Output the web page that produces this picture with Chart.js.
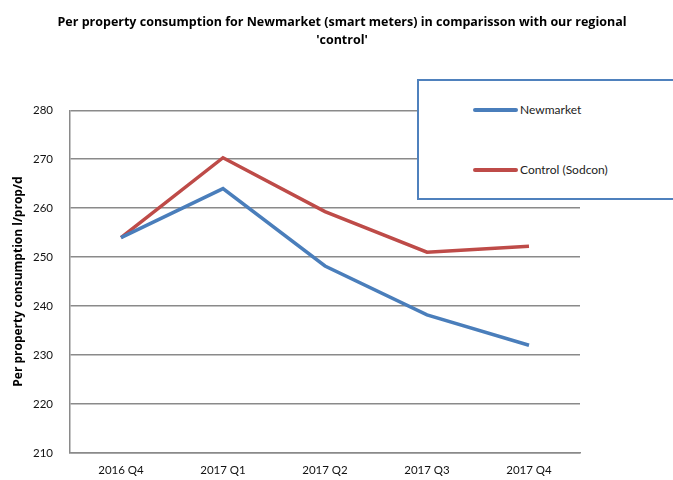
<!DOCTYPE html>
<html>
<head>
<meta charset="utf-8">
<script src="https://cdn.jsdelivr.net/npm/chart.js@4/dist/chart.umd.min.js"></script>
<style>
    html, body { margin: 0; padding: 0; background: #fff; }
    #wrap { position: relative; width: 673px; height: 480px; }
    #legendBox {
        position: absolute; left: 417px; top: 79px; width: 262px; height: 121px;
        border: 2px solid #4f81bd; background: #fff; box-sizing: border-box;
        font-family: Lato, sans-serif; font-size: 12px; color: #222;
    }
    .leg-item { position: absolute; left: 54px; display: flex; align-items: center; }
    .leg-line { width: 45px; height: 4px; border-radius: 2px; margin-right: 2px; }
</style>
</head>
<body>
<div id="wrap">
    <canvas id="chart" width="673" height="480"></canvas>
    <div id="legendBox"></div>
</div>
<script>
// Data
const categories = ['2016 Q4', '2017 Q1', '2017 Q2', '2017 Q3', '2017 Q4'];
const newmarket = [254, 264, 248.2, 238.2, 232];
const control = [254, 270.3, 259.3, 251, 252.2];
const seriesNames = ['Newmarket', 'Control (Sodcon)'];
const seriesColors = ['#4a7ebb', '#be4b48'];

const gridGray = '#8a8a8a';
const fontFamily = "Lato, sans-serif";

const ctx = document.getElementById('chart');

new Chart(ctx, {
    type: 'line',
    data: {
        labels: categories,
        datasets: [newmarket, control].map((values, i) => ({
            label: seriesNames[i],
            data: values,
            borderColor: seriesColors[i],
            backgroundColor: seriesColors[i],
            borderWidth: 3.5,
            pointRadius: 0,
            tension: 0,
            fill: false
        }))
    },
    options: {
        responsive: false,
        animation: false,
        devicePixelRatio: 1,
        layout: {
            padding: { left: 11, right: 0, top: 0, bottom: 0 }
        },
        plugins: {
            legend: { display: false },
            tooltip: { enabled: false },
            title: {
                display: true,
                text: ['Per property consumption for Newmarket (smart meters) in comparisson with our regional', "'control'"],
                color: '#000',
                font: { family: "'Open Sans', sans-serif", size: 12.5, weight: 'bold', lineHeight: 1.45 },
                padding: { top: 13, bottom: 61 }
            }
        },
        scales: {
            x: {
                offset: true,
                grid: { display: false, drawTicks: false },
                border: { color: gridGray, width: 1.5 },
                ticks: {
                    color: '#111',
                    padding: 10,
                    font: { family: fontFamily, size: 11.5 },
                    maxRotation: 0
                },
                afterFit: (scale) => { scale.height = 27; }
            },
            y: {
                min: 210,
                max: 280,
                ticks: {
                    stepSize: 10,
                    color: '#111',
                    padding: 17,
                    font: { family: fontFamily, size: 11.5 }
                },
                grid: { color: gridGray, lineWidth: 1.5, drawTicks: false },
                border: { color: gridGray, width: 1.5 },
                title: {
                    display: true,
                    text: 'Per property consumption l/prop/d',
                    color: '#000',
                    font: { family: "'Open Sans', sans-serif", size: 12, weight: 'bold' },
                    padding: { top: 0, bottom: 0 }
                },
                afterFit: (scale) => { scale.width = 59; }
            },
            // empty right-hand space so the title centres over the whole page
            yRight: {
                position: 'right',
                display: true,
                grid: { display: false, drawTicks: false },
                border: { display: false },
                ticks: { display: false },
                afterFit: (scale) => { scale.width = 93; }
            }
        }
    }
});

// Legend box drawn over the plot, as in the reference
const legendBox = document.getElementById('legendBox');
legendBox.innerHTML = seriesNames.map((name, i) => `
    <div class="leg-item" style="top:${21 + i * 60}px">
        <div class="leg-line" style="background:${seriesColors[i]}"></div>
        <span>${name}</span>
    </div>
`).join('');
</script>
</body>
</html>
